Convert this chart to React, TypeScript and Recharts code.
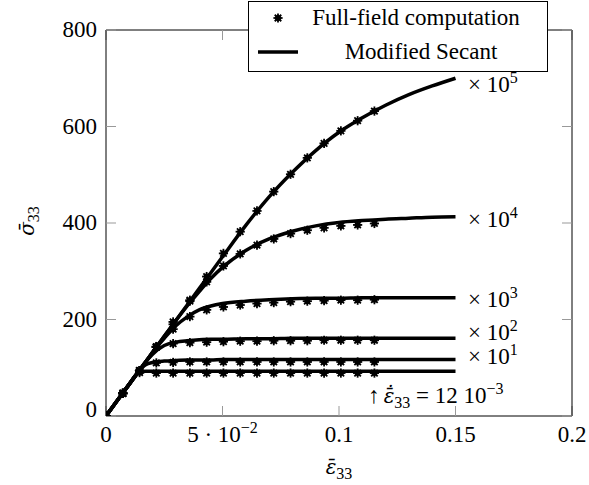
import React from "react";
import {
  ComposedChart,
  Line,
  Scatter,
  XAxis,
  YAxis,
  Legend,
  ReferenceDot,
} from "recharts";

// Modified Secant curves (x grid shared by all six strain rates)
const lineX = [
  0, 0.005, 0.01, 0.0135, 0.017, 0.02, 0.025, 0.03, 0.035, 0.04, 0.045, 0.05,
  0.06, 0.07, 0.08, 0.09, 0.1, 0.11, 0.12, 0.13, 0.14, 0.15,
];
const lineRate0 = [0, 33, 66, 88, 93, 93, 93, 93, 93, 93, 93, 93, 93, 93, 93, 93, 93, 93, 93, 93, 93, 93];
const lineRate1 = [0, 33, 66, 89, 106, 111, 114, 115, 116, 116, 116, 117, 117, 117, 117, 117, 117, 117, 117, 117, 117, 117];
const lineRate2 = [0, 33, 66, 89, 112, 128, 146, 153, 156, 158, 159, 159, 160, 160, 161, 161, 161, 161, 161, 161, 161, 161];
const lineRate3 = [0, 33, 66, 89, 112, 132, 161, 187, 206, 220, 228, 233, 238, 241, 243, 244, 244, 245, 245, 245, 245, 245];
const lineRate4 = [0, 33, 66, 89, 112, 132, 165, 198, 229, 258, 285, 308, 343, 367, 383, 394, 401, 405, 408, 410, 412, 413];
const lineRate5 = [0, 33, 66, 89, 112, 132, 165, 198, 231, 264, 297, 330, 395, 454, 505, 550, 588, 618, 644, 666, 684, 700];

// Full-field computation points
const markX = [
  0, 0.0072, 0.0144, 0.0216, 0.0288, 0.036, 0.0432, 0.0504, 0.0576, 0.0648,
  0.072, 0.0792, 0.0864, 0.0936, 0.1008, 0.108, 0.1152,
];
const markRate0 = [0, 47, 90, 89, 89, 89, 89, 89, 89, 89, 89, 89, 89, 89, 89, 89, 89];
const markRate1 = [0, 47, 94, 110, 111, 112, 112, 112, 112, 112, 112, 112, 112, 112, 112, 112, 112];
const markRate2 = [0, 47, 94, 143, 150, 152, 153, 154, 155, 155, 156, 156, 156, 157, 157, 157, 157];
const markRate3 = [0, 47, 94, 143, 180, 206, 220, 226, 230, 233, 235, 237, 238, 239, 240, 240, 241];
const markRate4 = [0, 47, 94, 143, 190, 238, 278, 311, 336, 354, 367, 378, 385, 390, 394, 396, 399];
const markRate5 = [0, 47, 94, 144, 195, 240, 289, 337, 382, 425, 465, 501, 535, 565, 591, 612, 632];

const xTicks = [0, 0.05, 0.1, 0.15, 0.2];
const xTickText = ["0", "5 · 10", "0.1", "0.15", "0.2"];
const xTickSup = ["", "−2", "", "", ""];
const yTicks = [0, 200, 400, 600, 800];

const legendNames = ["Full-field computation", "Modified Secant"];

// strain-rate annotations next to the curve ends
const rateNotes = [
  { x: 0.1554, y: 686, sup: "5" },
  { x: 0.1554, y: 406, sup: "4" },
  { x: 0.1554, y: 240, sup: "3" },
  { x: 0.1554, y: 173, sup: "2" },
  { x: 0.1554, y: 123, sup: "1" },
];
const baseNote = { x: 0.1125, y: 44 };

// corners of the frame, so the top / right axes have a series
const frameX = [0, 0.2];
const frameY = [0, 800];

const TXT = { fontFamily: "'Liberation Serif', serif" };
const MATH = { fontFamily: "'DejaVu Serif', serif", fontStyle: "italic" as const };
const FS = 23;
const SUP = 16;

const toRows = (xs: number[], ys: number[]) => xs.map((x, i) => ({ x, y: ys[i] }));

const lineSeries = [lineRate0, lineRate1, lineRate2, lineRate3, lineRate4, lineRate5];
const markSeries = [markRate0, markRate1, markRate2, markRate3, markRate4, markRate5];

function Asterisk(props: any) {
  const { cx, cy } = props;
  if (cx == null || cy == null) return null;
  const r = 4.6;
  return (
    <g>
      <circle cx={cx} cy={cy} r={3} fill="#000" />
      {[0, 45, 90, 135].map((a) => {
        const dx = Math.cos((a * Math.PI) / 180) * r;
        const dy = Math.sin((a * Math.PI) / 180) * r;
        return (
          <line
            key={a}
            x1={cx - dx}
            y1={cy - dy}
            x2={cx + dx}
            y2={cy + dy}
            stroke="#000"
            strokeWidth={1.8}
          />
        );
      })}
    </g>
  );
}

function XTick(props: any) {
  const { x, y, payload } = props;
  const i = xTicks.indexOf(payload.value);
  return (
    <text x={x} y={y} dy={16} textAnchor="middle" style={TXT} fontSize={FS} fill="#000">
      {xTickText[i]}
      {xTickSup[i] && (
        <tspan dy={-9} fontSize={SUP}>
          {xTickSup[i]}
        </tspan>
      )}
    </text>
  );
}

function YTick(props: any) {
  const { x, y, payload } = props;
  return (
    <text
      x={x}
      y={y}
      dy={payload.value === 0 ? 1 : 7}
      textAnchor="end"
      style={TXT}
      fontSize={FS}
      fill="#000"
    >
      {payload.value}
    </text>
  );
}

const NoTick = () => <g />;

function XTitle(props: any) {
  const vb = props.viewBox || {};
  return (
    <text x={vb.x + vb.width / 2} y={vb.y + 58} textAnchor="middle" style={TXT} fontSize={FS} fill="#000">
      <tspan style={MATH} fontSize={20}>ε̄</tspan>
      <tspan dy={5} fontSize={SUP}>33</tspan>
    </text>
  );
}

function YTitle(props: any) {
  const vb = props.viewBox || {};
  const cx = vb.x - 19;
  const cy = vb.y + vb.height / 2 - 2;
  return (
    <text
      x={cx}
      y={cy}
      transform={`rotate(-90 ${cx} ${cy})`}
      textAnchor="middle"
      dy={7}
      style={TXT}
      fontSize={FS}
      fill="#000"
    >
      <tspan style={MATH} fontSize={20}>σ̄</tspan>
      <tspan dy={5} fontSize={SUP}>33</tspan>
    </text>
  );
}

function rateLabel(sup: string) {
  return (props: any) => {
    const vb = props.viewBox || {};
    return (
      <text x={vb.x} y={vb.y} dy={7} style={TXT} fontSize={FS} fill="#000">
        × 10
        <tspan dy={-9} fontSize={SUP}>
          {sup}
        </tspan>
      </text>
    );
  };
}

function baseLabel(props: any) {
  const vb = props.viewBox || {};
  return (
    <text x={vb.x} y={vb.y} dy={8} style={TXT} fontSize={FS} fill="#000">
      ↑
      <tspan dx={4} style={MATH} fontSize={20}>ε̄̇</tspan>
      <tspan dy={5} fontSize={SUP}>33</tspan>
      <tspan dy={-5}> = 12 10</tspan>
      <tspan dy={-9} fontSize={SUP}>−3</tspan>
    </text>
  );
}

function LegendBox() {
  return (
    <svg width={300} height={71} style={{ display: "block" }}>
      <rect x={0.5} y={0.5} width={299} height={70} fill="#fff" stroke="#000" strokeWidth={1} />
      <Asterisk cx={30} cy={17} />
      <text x={168} y={17} dy={7} textAnchor="middle" style={TXT} fontSize={FS} fill="#000">
        {legendNames[0]}
      </text>
      <line x1={10} y1={51} x2={50} y2={51} stroke="#000" strokeWidth={3.5} />
      <text x={173} y={51} dy={7} textAnchor="middle" style={TXT} fontSize={FS} fill="#000">
        {legendNames[1]}
      </text>
    </svg>
  );
}

export default function App() {
  return (
    <div style={{ position: "absolute", left: 0, top: 0, width: 589, height: 485, background: "#fff" }}>
      <ComposedChart width={589} height={485} margin={{ top: 29, right: 16, bottom: 29, left: 46 }}>
        <XAxis
          type="number"
          dataKey="x"
          domain={[0, 0.2]}
          ticks={xTicks}
          allowDataOverflow
          height={40}
          tickSize={-10}
          tickMargin={20}
          tick={<XTick />}
          axisLine={{ stroke: "#000" }}
          tickLine={{ stroke: "#999" }}
          label={XTitle}
        />
        <XAxis
          xAxisId="top"
          orientation="top"
          type="number"
          dataKey="x"
          domain={[0, 0.2]}
          ticks={xTicks}
          allowDataOverflow
          height={1}
          tickSize={-10}
          tick={<NoTick />}
          axisLine={{ stroke: "#000" }}
          tickLine={{ stroke: "#999" }}
        />
        <YAxis
          type="number"
          dataKey="y"
          domain={[0, 800]}
          ticks={yTicks}
          allowDataOverflow
          width={60}
          tickSize={-10}
          tickMargin={19}
          tick={<YTick />}
          axisLine={{ stroke: "#000" }}
          tickLine={{ stroke: "#999" }}
          label={YTitle}
        />
        <YAxis
          yAxisId="right"
          orientation="right"
          type="number"
          dataKey="y"
          domain={[0, 800]}
          ticks={yTicks}
          allowDataOverflow
          width={1}
          tickSize={-10}
          tick={<NoTick />}
          axisLine={{ stroke: "#000" }}
          tickLine={{ stroke: "#999" }}
        />
        <Line
          xAxisId="top"
          yAxisId="right"
          data={toRows(frameX, frameY)}
          dataKey="y"
          stroke="none"
          dot={false}
          activeDot={false}
          isAnimationActive={false}
          legendType="none"
        />
        {lineSeries.map((ys, k) => (
          <Line
            key={"l" + k}
            data={toRows(lineX, ys)}
            dataKey="y"
            type="monotone"
            stroke="#000"
            strokeWidth={3.5}
            dot={false}
            activeDot={false}
            isAnimationActive={false}
            legendType="none"
          />
        ))}
        {markSeries.map((ys, k) => (
          <Scatter
            key={"m" + k}
            data={toRows(markX, ys)}
            dataKey="y"
            shape={<Asterisk />}
            isAnimationActive={false}
            legendType="none"
          />
        ))}
        {rateNotes.map((n) => (
          <ReferenceDot
            key={n.sup}
            x={n.x}
            y={n.y}
            r={0}
            fill="none"
            stroke="none"
            label={rateLabel(n.sup)}
          />
        ))}
        <ReferenceDot x={baseNote.x} y={baseNote.y} r={0} fill="none" stroke="none" label={baseLabel} />
        <Legend
          layout="horizontal"
          verticalAlign="middle"
          align="center"
          content={<LegendBox />}
          wrapperStyle={{ position: "absolute", left: 248, top: 1, width: 300, height: 71 }}
        />
      </ComposedChart>
    </div>
  );
}
